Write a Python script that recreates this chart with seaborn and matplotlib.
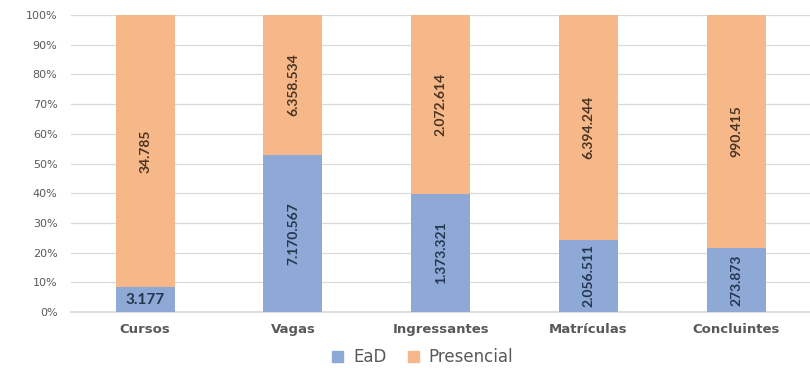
import matplotlib
matplotlib.use("Agg")
import matplotlib.pyplot as plt
import seaborn as sns
import pandas as pd
import numpy as np
from matplotlib.patches import Patch

categories = ["Cursos", "Vagas", "Ingressantes", "Matrículas", "Concluintes"]
ead = [3177, 7170567, 1373321, 2056511, 273873]
presencial = [34785, 6358534, 2072614, 6394244, 990415]
yticks = [0, 10, 20, 30, 40, 50, 60, 70, 80, 90, 100]

def fmt(v):
    return f"{v:,}".replace(",", ".")

sns.set_theme(style="white")
plt.rcParams['font.family'] = ['DejaVu Sans']
narrow = ['Lato', 'DejaVu Sans']

total = np.array(ead) + np.array(presencial)
df = pd.DataFrame({
    "cat": categories,
    "ead_pct": np.array(ead) / total * 100,
    "tot_pct": np.full(len(categories), 100.0),
})

c_ead = "#8EA9D6"
c_pre = "#F6B889"

fig = plt.figure(figsize=(8.1, 3.68), dpi=100)
ax = fig.add_axes([0.088, 0.152, 0.912, 0.807])

sns.barplot(data=df, x="cat", y="tot_pct", color=c_pre, width=0.4, ax=ax,
            saturation=1, zorder=2, linewidth=0)
sns.barplot(data=df, x="cat", y="ead_pct", color=c_ead, width=0.4, ax=ax,
            saturation=1, zorder=3, linewidth=0)

ax.set_ylim(0, 100)
ax.set_xlim(-0.5, len(categories) - 0.5)
ax.set_yticks(yticks)
ax.set_yticklabels([f"{t}%" for t in yticks], fontsize=8, color="#595959")
ax.set_xticks(range(len(categories)))
ax.set_xticklabels(categories, fontsize=9.5, fontweight="bold", color="#595959")
ax.tick_params(axis="both", length=0)
ax.tick_params(axis="x", pad=8)
ax.tick_params(axis="y", pad=10)
ax.set_xlabel("")
ax.set_ylabel("")
ax.yaxis.grid(True, color="#D9D9D9", linewidth=0.9, zorder=0)
ax.set_axisbelow(True)
for s in ["top", "right", "left"]:
    ax.spines[s].set_visible(False)
ax.spines["bottom"].set_color("#D9D9D9")

for i, (e, p) in enumerate(zip(ead, presencial)):
    ep = e / (e + p) * 100
    if i == 0:
        ax.text(i, ep / 2, fmt(e), ha="center", va="center", fontsize=11,
                fontweight="bold", color="#243650", zorder=5, family=narrow)
    else:
        ax.text(i, ep / 2, fmt(e), ha="center", va="center", fontsize=10,
                fontweight="bold", color="#243650", rotation=90, zorder=5,
                family=narrow)
    ax.text(i, ep + (100 - ep) / 2, fmt(p), ha="center", va="center", fontsize=10,
            fontweight="bold", color="#4A3322", rotation=90, zorder=5,
            family=narrow)

handles = [Patch(color=c_ead, label="EaD"), Patch(color=c_pre, label="Presencial")]
fig.legend(handles=handles, loc="center", bbox_to_anchor=(0.522, 0.03), ncol=2,
           frameon=False, fontsize=12, handlelength=0.65, handleheight=0.65,
           columnspacing=1.3, handletextpad=0.6, labelcolor="#595959")

fig.savefig("out.png", dpi=100)
